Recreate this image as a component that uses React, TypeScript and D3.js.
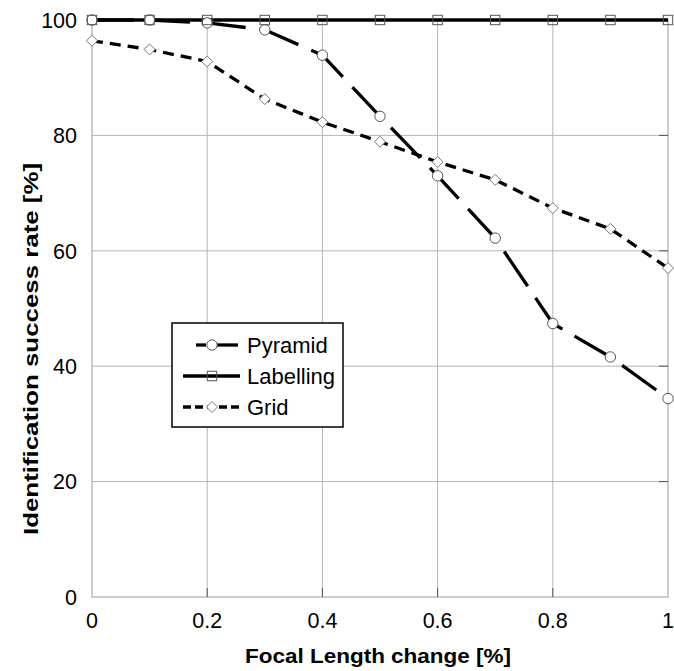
import React from 'react';
import * as d3 from 'd3';

const xValues = [0, 0.1, 0.2, 0.3, 0.4, 0.5, 0.6, 0.7, 0.8, 0.9, 1];
const pyramid = [100, 100, 99.5, 98.3, 93.9, 83.3, 73.0, 62.2, 47.4, 41.6, 34.4];
const labelling = [100, 100, 100, 100, 100, 100, 100, 100, 100, 100, 100];
const grid = [96.4, 94.9, 92.8, 86.3, 82.3, 78.9, 75.4, 72.3, 67.4, 63.8, 57.0];
const xTicks = [0, 0.2, 0.4, 0.6, 0.8, 1];
const yTicks = [0, 20, 40, 60, 80, 100];

const W = 674;
const H = 671;
const m = { left: 92, right: 6, top: 20, bottom: 74 };

const series = [
    { name: 'Pyramid', values: pyramid, dash: '42,14', legendDash: '10,12', marker: 'circle' },
    { name: 'Labelling', values: labelling, dash: null, legendDash: null, marker: 'square' },
    { name: 'Grid', values: grid, dash: '11,7', legendDash: '8,4', marker: 'diamond' },
];

function Marker({ type, x, y }) {
    if (type === 'circle') {
        return <circle cx={x} cy={y} r={5.2} fill="white" stroke="#555" strokeWidth={1} />;
    }
    if (type === 'square') {
        return <rect x={x - 4.7} y={y - 4.7} width={9.4} height={9.4} fill="none" stroke="#555" strokeWidth={1} />;
    }
    return (
        <path
            d={`M${x},${y - 5.5}L${x + 5.5},${y}L${x},${y + 5.5}L${x - 5.5},${y}Z`}
            fill="white"
            stroke="#777"
            strokeWidth={1}
        />
    );
}

export default function App() {
    const x = d3.scaleLinear().domain([0, 1]).range([m.left, W - m.right]);
    const y = d3.scaleLinear().domain([0, 100]).range([H - m.bottom, m.top]);

    const line = d3
        .line<number>()
        .x((_, i) => x(xValues[i]))
        .y((d) => y(d));

    const font = '"Liberation Sans", Arial, sans-serif';

    return (
        <svg width={W} height={H} style={{ position: 'absolute', left: 0, top: 0 }}>
            <rect width={W} height={H} fill="white" />

            {/* grid */}
            {xTicks.slice(1, -1).map((t) => (
                <line key={'gx' + t} x1={x(t)} x2={x(t)} y1={y(0)} y2={y(100)} stroke="#b4b4b4" strokeWidth={1} />
            ))}
            {yTicks.slice(1, -1).map((t) => (
                <line key={'gy' + t} x1={x(0)} x2={x(1)} y1={y(t)} y2={y(t)} stroke="#b4b4b4" strokeWidth={1} />
            ))}

            {/* frame */}
            <rect x={x(0)} y={y(100)} width={x(1) - x(0)} height={y(0) - y(100)} fill="none" stroke="#999" strokeWidth={1} />

            {/* inner ticks */}
            {xTicks.slice(1, -1).map((t) => (
                <line key={'tx' + t} x1={x(t)} x2={x(t)} y1={y(0)} y2={y(0) - 9} stroke="#555" strokeWidth={1} />
            ))}
            {yTicks.slice(1, -1).map((t) => (
                <line key={'ty' + t} x1={x(1)} x2={x(1) - 9} y1={y(t)} y2={y(t)} stroke="#555" strokeWidth={1} />
            ))}

            {/* tick labels */}
            {yTicks.map((t) => (
                <text key={'ly' + t} x={x(0) - 15} y={y(t)} dy="0.36em" textAnchor="end" fontFamily={font} fontSize={21.5}>
                    {t}
                </text>
            ))}
            {xTicks.map((t) => (
                <text key={'lx' + t} x={x(t)} y={y(0) + 31} textAnchor="middle" fontFamily={font} fontSize={21.5}>
                    {t}
                </text>
            ))}

            {/* lines */}
            {series.map((s) => (
                <path
                    key={s.name}
                    d={line(s.values) || ''}
                    fill="none"
                    stroke="black"
                    strokeWidth={3.3}
                    strokeDasharray={s.dash || undefined}
                />
            ))}
            {series.map((s) =>
                s.values.map((v, i) => <Marker key={s.name + i} type={s.marker} x={x(xValues[i])} y={y(v)} />)
            )}

            {/* legend */}
            <rect x={172} y={323} width={171} height={104} fill="white" stroke="black" strokeWidth={1.5} />
            {series.map((s, i) => {
                const ly = 345 + i * 31;
                return (
                    <g key={'lg' + s.name}>
                        {i === 0 ? (
                            <g>
                                <line x1={196} x2={206} y1={ly} y2={ly} stroke="black" strokeWidth={3.3} />
                                <line x1={217} x2={238} y1={ly} y2={ly} stroke="black" strokeWidth={3.3} />
                            </g>
                        ) : (
                            <line
                                x1={183}
                                x2={240}
                                y1={ly}
                                y2={ly}
                                stroke="black"
                                strokeWidth={3.3}
                                strokeDasharray={s.legendDash || undefined}
                            />
                        )}
                        <Marker type={s.marker} x={212} y={ly} />
                        <text x={247} y={ly} dy="0.36em" fontFamily={font} fontSize={22}>
                            {s.name}
                        </text>
                    </g>
                );
            })}

            {/* axis titles */}
            <text
                x={378}
                y={663}
                textAnchor="middle"
                fontFamily={font}
                fontSize={21}
                fontWeight="bold"
                textLength={266}
                lengthAdjust="spacingAndGlyphs"
            >
                Focal Length change [%]
            </text>
            <text
                transform={`translate(38,349) rotate(-90)`}
                textAnchor="middle"
                fontFamily={font}
                fontSize={19.5}
                fontWeight="bold"
                textLength={372}
                lengthAdjust="spacingAndGlyphs"
            >
                Identification success rate [%]
            </text>
        </svg>
    );
}
